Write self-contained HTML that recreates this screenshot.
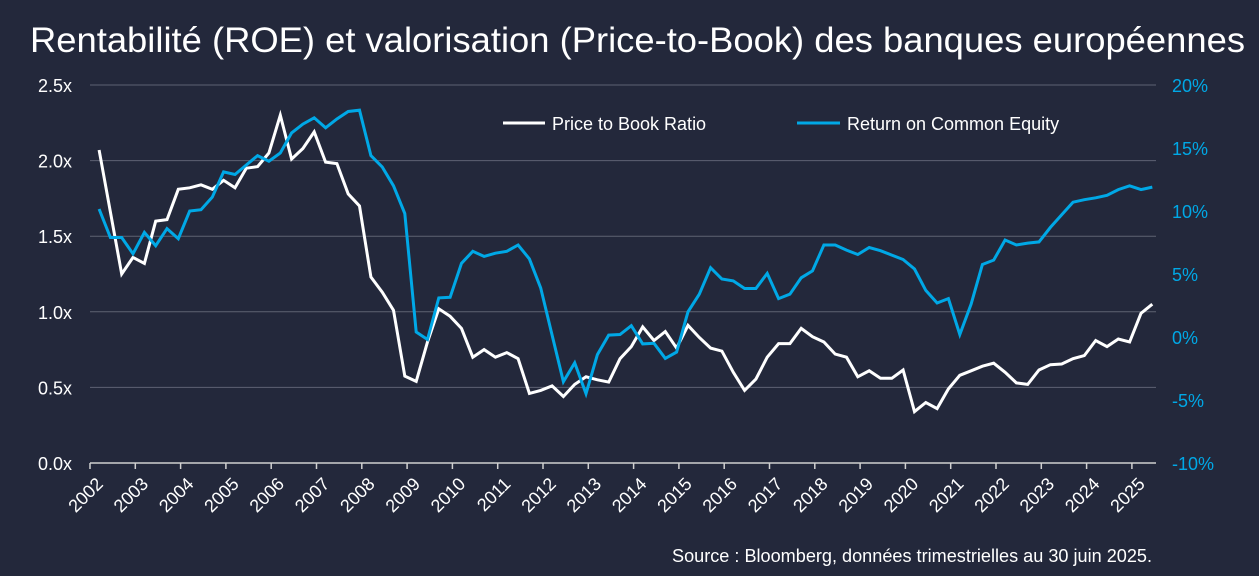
<!DOCTYPE html>
<html><head><meta charset="utf-8">
<style>
html,body{margin:0;padding:0;background:#23283b;}
svg{display:block;font-family:"Liberation Sans",sans-serif;}
</style></head>
<body>
<svg id="chart" width="1259" height="576" viewBox="0 0 1259 576" xmlns="http://www.w3.org/2000/svg">
<rect x="0" y="0" width="1259" height="576" fill="#23283b"/>
<text x="30" y="52" font-size="35" fill="#ffffff" textLength="1215" lengthAdjust="spacingAndGlyphs">Rentabilité (ROE) et valorisation (Price-to-Book) des banques européennes</text>
<g id="grid"></g>
<g id="axes"></g>
<g id="series"></g>
<g>
<line x1="503" y1="123" x2="545" y2="123" stroke="#ffffff" stroke-width="3"/>
<text x="552" y="130" font-size="18" fill="#ffffff">Price to Book Ratio</text>
<line x1="797" y1="123" x2="840" y2="123" stroke="#00a8e6" stroke-width="3"/>
<text x="847" y="130" font-size="18" fill="#ffffff">Return on Common Equity</text>
</g>
<text x="672" y="562" font-size="18" fill="#ffffff" textLength="480" lengthAdjust="spacingAndGlyphs">Source : Bloomberg, données trimestrielles au 30 juin 2025.</text>
</svg>
<script>
const years = ["2002","2003","2004","2005","2006","2007","2008","2009","2010","2011","2012","2013","2014","2015","2016","2017","2018","2019","2020","2021","2022","2023","2024","2025"];
const leftTicks = [0,0.5,1,1.5,2,2.5];
const leftTickLabels = ["0.0x","0.5x","1.0x","1.5x","2.0x","2.5x"];
const rightTicks = [-10,-5,0,5,10,15,20];
const rightTickLabels = ["-10%","-5%","0%","5%","10%","15%","20%"];
const priceToBook = [2.07,1.66,1.25,1.36,1.32,1.60,1.61,1.81,1.82,1.84,1.81,1.87,1.82,1.95,1.96,2.05,2.30,2.01,2.08,2.19,1.99,1.98,1.78,1.70,1.23,1.13,1.01,0.575,0.54,0.80,1.02,
0.97,0.89,0.70,0.75,0.70,0.73,0.69,0.46,0.48,0.51,0.44,0.52,0.57,0.55,0.535,0.69,0.77,0.90,0.81,0.87,0.76,0.91,0.83,0.76,0.74,0.60,0.48,0.555,0.70,0.79,0.79,0.89,0.835,
0.80,0.72,0.70,0.57,0.61,0.56,0.56,0.615,0.34,0.40,0.36,0.49,0.58,0.61,0.64,0.66,0.60,0.53,0.52,0.615,0.65,0.655,0.69,0.71,0.81,0.77,0.82,0.80,0.99,1.05];
const roe = [10.16,7.9,7.9,6.6,8.3,7.25,8.6,7.8,10.0,10.1,11.1,13.1,12.9,13.65,14.4,13.95,14.6,16.2,16.9,17.4,16.6,17.3,17.9,18.0,14.4,13.5,12.0,9.8,0.4,-0.2,3.1,
3.15,5.85,6.8,6.4,6.65,6.8,7.3,6.2,3.9,0.15,-3.55,-2.05,-4.5,-1.4,0.15,0.2,0.9,-0.55,-0.5,-1.7,-1.2,2.0,3.4,5.5,4.6,4.45,3.85,3.85,5.05,3.05,3.4,4.7,5.25,
7.3,7.3,6.9,6.55,7.1,6.85,6.5,6.15,5.4,3.7,2.7,3.05,0.2,2.6,5.75,6.1,7.7,7.3,7.45,7.55,8.7,9.7,10.7,10.9,11.05,11.25,11.7,12.0,11.7,11.9];

const NS="http://www.w3.org/2000/svg";
const X0=90, YEARW=45.3, Q=YEARW/4;
const PLOT_R=1156, Y_BOT=463, Y_TOP=85;
function xYear(i){return X0+i*YEARW;}
function xQuarter(i){return X0+(i+0.8)*Q;}
function yLeft(v){return Y_BOT-(v/2.5)*(Y_BOT-Y_TOP);}
function yRight(r){return Y_BOT-((r+10)/30)*(Y_BOT-Y_TOP);}
function mk(tag,attrs,parent){const e=document.createElementNS(NS,tag);for(const k in attrs)e.setAttribute(k,attrs[k]);parent.appendChild(e);return e;}

const grid=document.getElementById('grid'), axes=document.getElementById('axes'), series=document.getElementById('series');
leftTicks.forEach((v,i)=>{
  if(v>0){const l=mk('line',{x1:X0,x2:PLOT_R,y1:yLeft(v),y2:yLeft(v),stroke:'#5e6273','stroke-width':1},grid);
  
  }
  const t=mk('text',{x:72,y:yLeft(v)+7,'font-size':18,fill:'#ffffff','text-anchor':'end'},axes);
  t.textContent=leftTickLabels[i];
  
  
});
rightTicks.forEach((r,i)=>{
  const t=mk('text',{x:1172,y:yRight(r)+7,'font-size':18,fill:'#00a8e6'},axes);
  t.textContent=rightTickLabels[i];
  
  
});
const ax=mk('line',{x1:X0,x2:PLOT_R,y1:Y_BOT,y2:Y_BOT,stroke:'#d0d0d0','stroke-width':1.5},axes);


years.forEach((y,i)=>{
  const x=xYear(i);
  const tk=mk('line',{x1:x,x2:x,y1:Y_BOT,y2:Y_BOT+6,stroke:'#d0d0d0','stroke-width':1.5},axes);
  
  
  const t=mk('text',{x:x+5,y:Y_BOT+13,'font-size':18,fill:'#ffffff','text-anchor':'end',transform:`rotate(-45 ${x+5} ${Y_BOT+13})`,'dominant-baseline':'hanging'},axes);
  t.textContent=y;
  
  
});
const pbPts=priceToBook.map((v,i)=>xQuarter(i).toFixed(1)+','+yLeft(v).toFixed(1)).join(' ');
const pbLine=mk('polyline',{points:pbPts,fill:'none',stroke:'#ffffff','stroke-width':3,'stroke-linejoin':'miter'},series);


const roePts=roe.map((r,i)=>xQuarter(i).toFixed(1)+','+yRight(r).toFixed(1)).join(' ');
const roeLine=mk('polyline',{points:roePts,fill:'none',stroke:'#00a8e6','stroke-width':3,'stroke-linejoin':'miter'},series);


</script>
</body></html>
